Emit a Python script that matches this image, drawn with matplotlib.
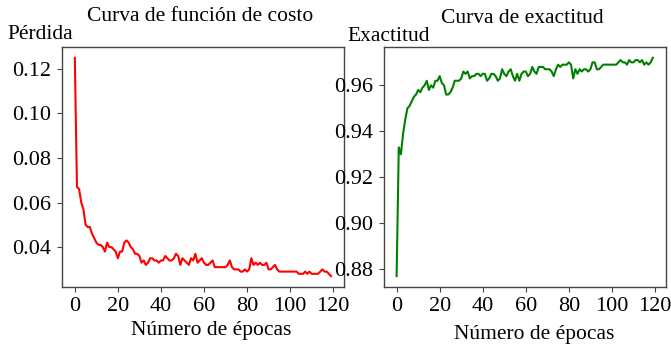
import numpy as np
import matplotlib
matplotlib.use("Agg")
import matplotlib.pyplot as plt

plt.rcParams['font.family'] = ['Liberation Serif', 'DejaVu Serif']

perdida = [0.125, 0.067, 0.066, 0.060, 0.057, 0.050, 0.049, 0.049, 0.046, 0.044,
           0.042, 0.041, 0.041, 0.040, 0.038, 0.042, 0.040, 0.040, 0.039, 0.038,
           0.035, 0.038, 0.038, 0.042, 0.043, 0.042, 0.040, 0.039, 0.037, 0.037,
           0.036, 0.033, 0.034, 0.032, 0.033, 0.035, 0.035, 0.034, 0.034, 0.033,
           0.034, 0.034, 0.036, 0.035, 0.034, 0.034, 0.035, 0.037, 0.036, 0.032,
           0.035, 0.034, 0.033, 0.032, 0.035, 0.034, 0.037, 0.033, 0.034, 0.035,
           0.033, 0.032, 0.032, 0.033, 0.034, 0.031, 0.031, 0.031, 0.031, 0.031,
           0.031, 0.032, 0.034, 0.031, 0.030, 0.030, 0.030, 0.029, 0.029, 0.030,
           0.029, 0.030, 0.035, 0.032, 0.033, 0.032, 0.033, 0.032, 0.032, 0.033,
           0.030, 0.030, 0.031, 0.032, 0.030, 0.029, 0.029, 0.029, 0.029, 0.029,
           0.029, 0.029, 0.029, 0.029, 0.028, 0.028, 0.028, 0.029, 0.028, 0.029,
           0.028, 0.028, 0.028, 0.028, 0.029, 0.030, 0.029, 0.029, 0.028, 0.027]

exactitud = [0.877, 0.933, 0.930, 0.939, 0.945, 0.950, 0.951, 0.953, 0.955, 0.956,
             0.958, 0.957, 0.959, 0.960, 0.962, 0.958, 0.960, 0.959, 0.962, 0.962,
             0.964, 0.961, 0.960, 0.956, 0.956, 0.957, 0.959, 0.962, 0.962, 0.962,
             0.963, 0.966, 0.965, 0.966, 0.963, 0.964, 0.964, 0.965, 0.965, 0.964,
             0.965, 0.965, 0.962, 0.963, 0.965, 0.965, 0.964, 0.962, 0.963, 0.967,
             0.965, 0.964, 0.966, 0.967, 0.964, 0.962, 0.965, 0.962, 0.965, 0.966,
             0.966, 0.964, 0.965, 0.968, 0.966, 0.965, 0.968, 0.968, 0.968, 0.967,
             0.967, 0.967, 0.966, 0.964, 0.967, 0.969, 0.968, 0.969, 0.969, 0.969,
             0.970, 0.969, 0.963, 0.967, 0.965, 0.967, 0.966, 0.967, 0.967, 0.966,
             0.967, 0.970, 0.970, 0.967, 0.967, 0.968, 0.969, 0.969, 0.969, 0.969,
             0.969, 0.969, 0.969, 0.970, 0.971, 0.970, 0.970, 0.969, 0.971, 0.970,
             0.970, 0.971, 0.971, 0.970, 0.971, 0.969, 0.970, 0.969, 0.970, 0.972]

epocas = np.arange(len(perdida))

fig = plt.figure(figsize=(6.71, 3.47), dpi=100)
ax1 = fig.add_axes([0.0924, 0.173, 0.420, 0.692])
ax2 = fig.add_axes([0.572, 0.173, 0.420, 0.692])

ax1.plot(epocas, perdida, color='red', lw=1.5)
ax2.plot(epocas, exactitud, color='green', lw=1.5)

for ax in (ax1, ax2):
    for s in ax.spines.values():
        s.set_color('#444444')
        s.set_linewidth(1.0)
    ax.tick_params(labelsize=16, length=3.5, color='#444444', pad=4)
    ax.set_xticks([0, 20, 40, 60, 80, 100, 120])

ax1.set_yticks([0.04, 0.06, 0.08, 0.10, 0.12])
ax2.set_yticks([0.88, 0.90, 0.92, 0.94, 0.96])

ax1.set_title('Curva de función de costo', fontsize=15.5, x=0.49, y=1.075)
ax2.set_title('Curva de exactitud', fontsize=15.5, x=0.49, y=1.065)

ax1.set_ylabel('Pérdida', fontsize=15.5, rotation=0, ha='center', va='center')
ax1.yaxis.set_label_coords(-0.078, 1.05)
ax2.set_ylabel('Exactitud', fontsize=15.5, rotation=0, ha='center', va='center')
ax2.yaxis.set_label_coords(0.018, 1.042)

ax1.set_xlabel('Número de épocas', fontsize=15.5, va='center')
ax1.xaxis.set_label_coords(0.53, -0.18)
ax2.set_xlabel('Número de épocas', fontsize=15.5, va='center')
ax2.xaxis.set_label_coords(0.535, -0.20)

fig.savefig('out.png', dpi=100)
